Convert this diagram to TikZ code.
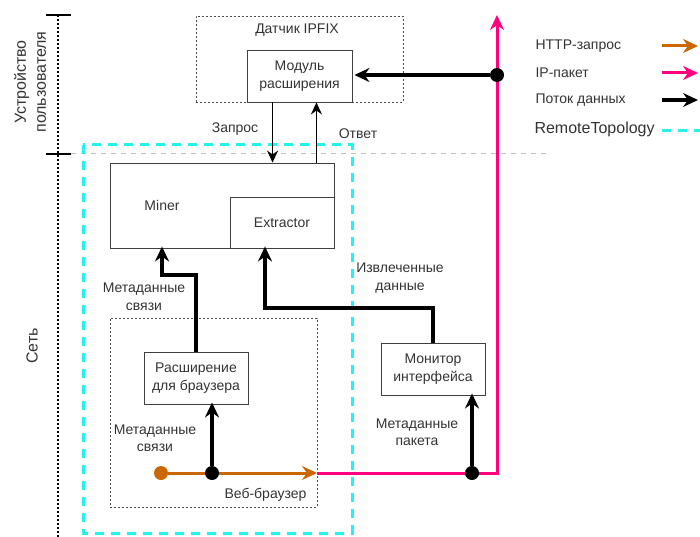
\documentclass[tikz,border=0pt]{standalone}
\usepackage{fontspec}
\setmainfont{Liberation Sans}
\usetikzlibrary{arrows.meta,positioning,calc}
\definecolor{httpcol}{HTML}{CC6600}
\definecolor{ipcol}{HTML}{FF0080}
\definecolor{topocol}{HTML}{22F2F2}
\definecolor{txtcol}{HTML}{333333}

\begin{document}
\begin{tikzpicture}[x=1pt, y=-1pt, font=\fontsize{14}{17.5}\selectfont, text=txtcol,
    block/.style={draw=black!75, rectangle, line width=0.9pt, align=center, inner sep=0pt},
    group/.style={draw=black!70, rectangle, line width=0.9pt, dash pattern=on 2pt off 2pt},
    dot/.style={circle, fill=black, inner sep=0pt, minimum size=14pt},
    flow/.style={line width=3.2pt, -{Stealth[length=15pt, width=14pt, inset=5pt]}},
    reqline/.style={line width=1.7pt, -{Stealth[length=12pt, width=11pt, inset=4pt]}},
    httpline/.style={httpcol, line width=3pt, -{Stealth[length=15pt, width=14pt, inset=5pt]}},
    ipline/.style={ipcol, line width=3pt, -{Stealth[length=15pt, width=14pt, inset=5pt]}},
    topoline/.style={topocol, line width=3pt, dash pattern=on 9pt off 7pt}]
    \useasboundingbox (0,0) rectangle (700,537);

    % left ruler
    \draw[line width=2pt, dotted] (58,15) -- (58,537);
    \draw[line width=2.5pt] (46,15) -- (71,15);
    \draw[line width=2.5pt] (46,154) -- (71,154);
    \draw[black!25, line width=1pt, dash pattern=on 5pt off 5pt] (71,154) -- (550,154);
    \node[rotate=90, align=center, font=\fontsize{16}{20}\selectfont] (userlbl) at (30,82) {Устройство\\пользователя};
    \node[rotate=90, font=\fontsize{16}{20}\selectfont] (netlbl) at (32,346) {Сеть};

    % groups
    \node[group, minimum width=207pt, minimum height=86pt] (sensor) at (299.5,59) {};
    \node (sensorlbl) at (297,30) {Датчик IPFIX};
    \draw[topoline] (83,145) rectangle (352,533);
    \node[group, minimum width=207pt, minimum height=189pt] (browser) at (213.5,412.5) {};
    \node[anchor=south east] (browserlbl) at (310,505) {Веб-браузер};

    % blocks
    \node[block, minimum width=105pt, minimum height=52pt] (module) at (299.5,76) {Модуль\\расширения};
    \node[block, minimum width=224pt, minimum height=85pt] (miner) at (222,205.5) {};
    \node (minerlbl) at (162,205) {Miner};
    \node[block, minimum width=104pt, minimum height=51pt] (extractor) at (282,222.5) {Extractor};
    \node[block, minimum width=104pt, minimum height=52pt] (ext) at (196,378) {Расширение\\для браузера};
    \node[block, minimum width=104pt, minimum height=52pt] (monitor) at (433,369) {Монитор\\интерфейса};

    % request / response
    \draw[reqline] ([xshift=26pt]module.south west) -- ([xshift=26pt]module.south west |- miner.north);
    \draw[reqline] ([xshift=-18pt]miner.north east) -- ([xshift=-18pt]miner.north east |- module.south);
    \node (reqlbl) at (235,129) {Запрос};
    \node (resplbl) at (358,134) {Ответ};

    % data flows
    \coordinate (mbend) at (162,275);
    \draw[flow] (ext.north) |- (mbend) -- ([yshift=2pt]mbend |- miner.south);
    \node[align=center] (linklbl) at (144,297) {Метаданные\\связи};
    \coordinate (ebend) at (265,308);
    \draw[flow] (monitor.north) |- (ebend) -- ([yshift=2pt]ebend |- extractor.south);
    \node[align=center] (extrlbl) at (400,278) {Извлеченные\\данные};

    % packets
    \node[dot, fill=httpcol] (start) at (161,473) {};
    \coordinate (bout) at (317,473);
    \coordinate (ipturn) at (497,473);
    \coordinate (iptop) at (497,15);
    \draw[ipline] (bout) -- (ipturn) -- (iptop);
    \draw[httpline] (start) -- (bout);
    \node[dot] (split) at (212,473) {};
    \draw[flow] (split) -- ([yshift=2pt]split |- ext.south);
    \node[align=center] (linklbl2) at (155,438) {Метаданные\\связи};
    \node[dot] (pktdot) at (472,473) {};
    \draw[flow] (pktdot) -- ([yshift=2pt]pktdot |- monitor.south);
    \node[align=center] (pktlbl) at (417,432) {Метаданные\\пакета};
    \node[dot] (moddot) at (497,75) {};
    \draw[flow] (moddot) -- ([xshift=2pt]moddot -| module.east);

    % legend
    \node[anchor=west] (lhttp) at (532,46) {HTTP-запрос};
    \node[anchor=west] (lip) at (532,73) {IP-пакет};
    \node[anchor=west] (lflow) at (532,100) {Поток данных};
    \node[anchor=west, font=\fontsize{16}{18}\selectfont] (ltopo) at (531,129) {RemoteTopology};
    \coordinate (lhttpa) at (662,46);
    \coordinate (lhttpb) at (698,46);
    \coordinate (lipa) at (662,73);
    \coordinate (lipb) at (698,73);
    \coordinate (lflowa) at (662,100);
    \coordinate (lflowb) at (698,100);
    \coordinate (ltopoa) at (662,131);
    \coordinate (ltopob) at (700,131);
    \draw[httpline] (lhttpa) -- (lhttpb);
    \draw[ipline] (lipa) -- (lipb);
    \draw[flow] (lflowa) -- (lflowb);
    \draw[topoline] (ltopoa) -- (ltopob);
\end{tikzpicture}
\end{document}
